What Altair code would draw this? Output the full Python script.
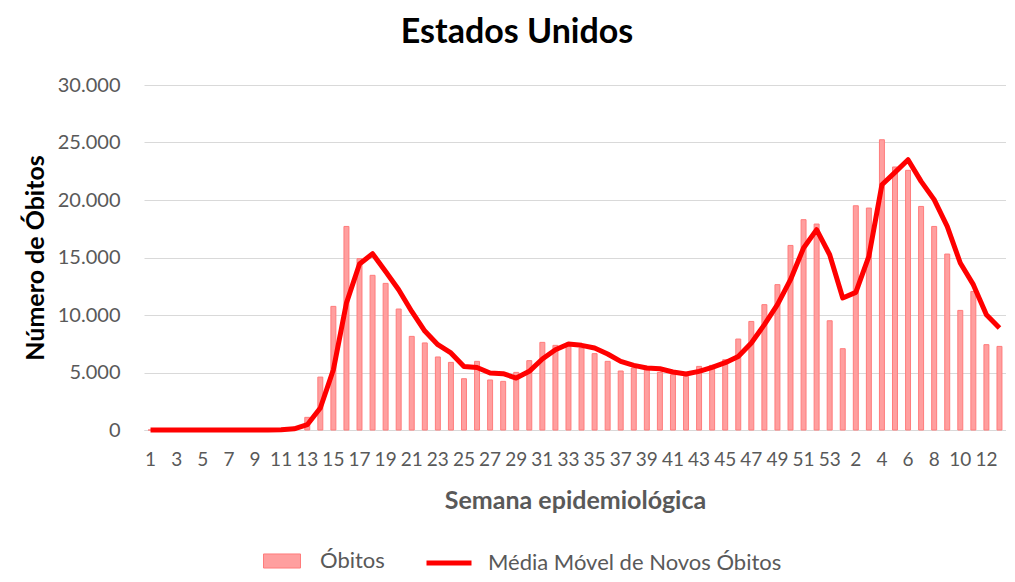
import json
import altair as alt
import pandas as pd

week_labels = [str(w) for w in range(1, 54)] + [str(w) for w in range(1, 14)]
shown_labels = [lab if i % 2 == 0 else "" for i, lab in enumerate(week_labels)]

obitos = [0, 0, 0, 0, 0, 0, 0, 0, 0, 0,
          40, 200, 1100, 4600, 10750, 17700, 14900, 13450, 12750, 10520,
          8140, 7570, 6350, 5880, 4460, 5970, 4350, 4230, 5010, 6030,
          7620, 7360, 7560, 7130, 6640, 5970, 5130, 5390, 5240, 5010,
          4810, 4660, 5530, 5620, 6110, 7910, 9440, 10900, 12640, 16050,
          18290, 17910, 9500,
          7070, 19500, 19300, 25240, 22870, 22580, 19440, 17700, 15300, 10400,
          12050, 7420, 7270]

media_movel = [0, 0, 0, 0, 0, 0, 0, 0, 0, 0,
               20, 100, 460, 1910, 5240, 11040, 14440, 15330, 13790, 12200,
               10310, 8600, 7420, 6700, 5530, 5440, 4960, 4900, 4520, 5100,
               6170, 6980, 7480, 7360, 7130, 6610, 5970, 5620, 5390, 5330,
               5040, 4870, 5100, 5440, 5850, 6400, 7570, 9160, 10900, 13070,
               15830, 17420, 15240,
               11480, 11970, 15100, 21330, 22400, 23500, 21620, 20030, 17700, 14520,
               12640, 10030, 8870]

y_ticks = [0, 5000, 10000, 15000, 20000, 25000, 30000]

bar_name = "Óbitos"
line_name = "Média Móvel de Novos Óbitos"

df = pd.DataFrame({
    "idx": list(range(len(week_labels))),
    "obitos": obitos,
    "media": media_movel,
    "s_bar": bar_name,
    "s_line": line_name,
})

FONT = "Lato"
GREY = "#595959"

x_enc = alt.X(
    "idx:O",
    scale=alt.Scale(paddingInner=0.62, paddingOuter=0.31),
    axis=alt.Axis(
        title="Semana epidemiológica",
        labelExpr=json.dumps(shown_labels) + "[datum.value]",
        labelAngle=0,
        labelOverlap=False,
        labelFont=FONT,
        labelFontSize=19,
        labelColor=GREY,
        labelPadding=20,
        ticks=False,
        domainColor="#d9d9d9",
        domainWidth=1,
        titleFont=FONT,
        titleFontSize=25,
        titleFontWeight="bold",
        titleColor=GREY,
        titlePadding=19,
    ),
)

y_scale = alt.Scale(domain=[0, 30000])
y_axis = alt.Axis(
    title="Número de  Óbitos",
    values=y_ticks,
    labelExpr="replace(format(datum.value, ','), ',', '.')",
    labelFont=FONT,
    labelFontSize=20,
    labelColor=GREY,
    labelPadding=24,
    ticks=False,
    domain=False,
    gridColor="#d9d9d9",
    gridWidth=1,
    titleFont=FONT,
    titleFontSize=25,
    titleFontWeight="bold",
    titleColor="#000000",
    titlePadding=9,
)

legend_common = dict(
    title=None,
    orient="none",
    padding=0,
    labelFont=FONT,
    labelFontSize=22,
    labelColor=GREY,
    labelLimit=500,
    labelBaseline="middle",
)

bars = alt.Chart(df).mark_bar(
    stroke="#ff7c7c", strokeWidth=1
).encode(
    x=x_enc,
    y=alt.Y("obitos:Q", scale=y_scale, axis=y_axis),
    fill=alt.Fill(
        "s_bar:N",
        scale=alt.Scale(domain=[bar_name], range=["#ff9f9f"]),
        legend=alt.Legend(
            legendX=119,
            legendY=457,
            symbolType="M-1,-0.38H1V0.38H-1Z",
            symbolSize=1369,
            symbolStrokeColor="#ff7c7c",
            symbolStrokeWidth=1,
            symbolOpacity=1,
            labelOffset=19,
            **legend_common,
        ),
    ),
)

line = alt.Chart(df).mark_line(strokeWidth=5, strokeJoin="round").encode(
    x=alt.X("idx:O"),
    y=alt.Y("media:Q", scale=y_scale),
    stroke=alt.Stroke(
        "s_line:N",
        scale=alt.Scale(domain=[line_name], range=["#ff0000"]),
        legend=alt.Legend(
            legendX=280,
            legendY=453,
            symbolType="stroke",
            symbolSize=2025,
            symbolStrokeWidth=5,
            labelOffset=14,
            **legend_common,
        ),
    ),
)

chart = alt.layer(bars, line).properties(
    width=862,
    height=345,
    autosize=alt.AutoSizeParams(type="none"),
    padding={"left": 136, "top": 77, "right": 0, "bottom": 144},
    title=alt.TitleParams(
        "Estados Unidos",
        font=FONT,
        fontSize=34,
        fontWeight="bold",
        color="#000000",
        anchor="middle",
        dx=-58,
        offset=25,
    ),
).configure_view(stroke=None)

chart.save("out.html", embed_options={"renderer": "svg", "actions": False})
